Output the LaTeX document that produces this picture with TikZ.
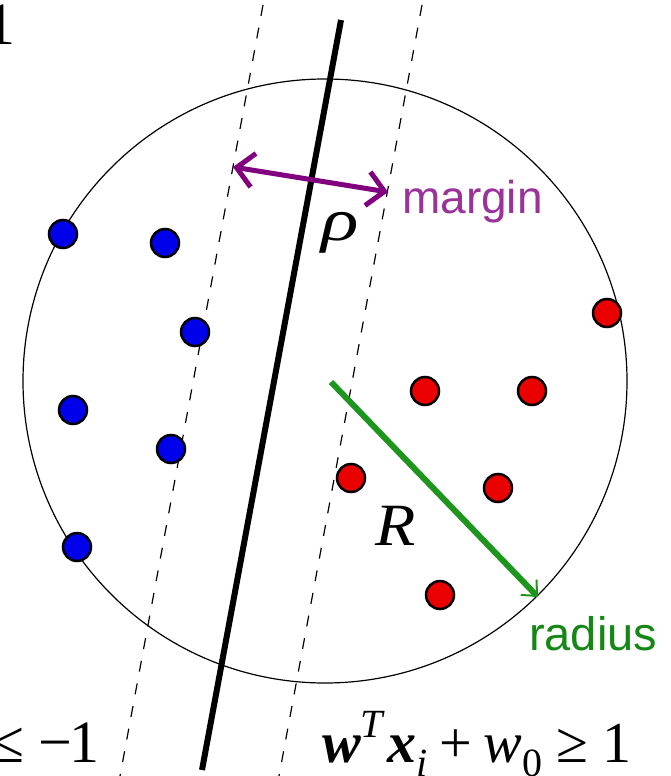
\documentclass[tikz,border=0pt]{standalone}
\usepackage{fontspec}
\usepackage{graphicx}
\setmainfont{Liberation Serif}
\newfontfamily\sansf{Liberation Sans}
\usetikzlibrary{arrows.meta}
\definecolor{dotblue}{RGB}{0,0,235}
\definecolor{dotred}{RGB}{235,0,0}
\definecolor{arrpurple}{RGB}{128,0,128}
\definecolor{txtpurple}{RGB}{153,51,153}
\definecolor{arrgreen}{RGB}{30,150,30}
\definecolor{txtgreen}{RGB}{20,135,20}
\newcommand{\scr}[1]{{\fontsize{40}{44}\selectfont #1}}
\tikzset{
  bluedot/.style={circle,draw=black,line width=2.5pt,fill=dotblue,minimum size=28pt,inner sep=0pt},
  reddot/.style={circle,draw=black,line width=2.5pt,fill=dotred,minimum size=28pt,inner sep=0pt},
  marginline/.style={line width=1.2pt,dash pattern=on 11pt off 12pt},
  serifbig/.style={inner sep=0pt,anchor=base west,font=\fontsize{60}{64}\selectfont},
  serifeq/.style={inner sep=0pt,anchor=base west,font=\fontsize{58}{62}\selectfont},
}
\begin{document}
\begin{tikzpicture}[x=1pt,y=-1pt]
\useasboundingbox (0,0) rectangle (670,776);
% circle
\node[circle,draw=black,line width=1.2pt,minimum size=604pt,inner sep=0pt] (ball) at (325,381) {};
% separating lines
\coordinate (st) at (341,20);
\coordinate (sb) at (202,770);
\coordinate (lt) at (263,5);
\coordinate (lb) at (120,776);
\coordinate (rt) at (422,5);
\coordinate (rb) at (279,776);
\draw[line width=6pt] (st) -- (sb);
\draw[marginline] (lt) -- (lb);
\draw[marginline] (rt) -- (rb);
% dots
\node[bluedot] (b1) at (63,234) {};
\node[bluedot] (b2) at (165,243) {};
\node[bluedot] (b3) at (195,332) {};
\node[bluedot] (b4) at (73,410) {};
\node[bluedot] (b5) at (171,449) {};
\node[bluedot] (b6) at (77,547) {};
\node[reddot] (r1) at (607,313) {};
\node[reddot] (r2) at (425,391) {};
\node[reddot] (r3) at (532,391) {};
\node[reddot] (r4) at (351,478) {};
\node[reddot] (r5) at (498,488) {};
\node[reddot] (r6) at (440,595) {};
% margin arrow
\coordinate (ma) at (233,167);
\coordinate (mb) at (388,192);
\draw[arrpurple,line width=5pt,{Straight Barb[length=17pt,width=34pt]}-{Straight Barb[length=17pt,width=34pt]}] (ma) -- (mb);
\node[anchor=base west,inner sep=0pt,text=txtpurple,font=\sansf\fontsize{46}{50}\selectfont] (mtxt) at (402,213) {margin};
\node[serifbig] (rho) at (321,240) {\scalebox{1.3}[1]{\itshape ρ}};
% radius arrow
\coordinate (ra) at (331,382);
\coordinate (rbp) at (538,597);
\draw[arrgreen,line width=6pt,-{Straight Barb[length=12pt,width=22pt,line width=2pt]}] (ra) -- (rbp);
\node[anchor=base west,inner sep=0pt,text=txtgreen,font=\sansf\fontsize{47}{50}\selectfont] (rtxt) at (529,650) {radius};
\node[serifbig] (R) at (375,545) {\scalebox{1.1}[1]{\itshape R}};
% partial texts
\node[serifbig] (one) at (-15,45) {1};
\node[serifbig] (neg) at (-9,762) {≤\hspace{14pt}−\hspace{-3pt}1};
% w^T x_i + w_0 >= 1
\node[serifeq] (eq) at (322,762) {{\bfseries\itshape w}\raisebox{25pt}{\scr{\itshape T}}\hspace{4pt}{\bfseries\itshape x}\raisebox{-14pt}{\scr{\itshape i}}\hspace{12pt}+\hspace{12pt}{\itshape w}\raisebox{-14pt}{\scr{0}}\hspace{14pt}≥\hspace{14pt}1};
\end{tikzpicture}
\end{document}
